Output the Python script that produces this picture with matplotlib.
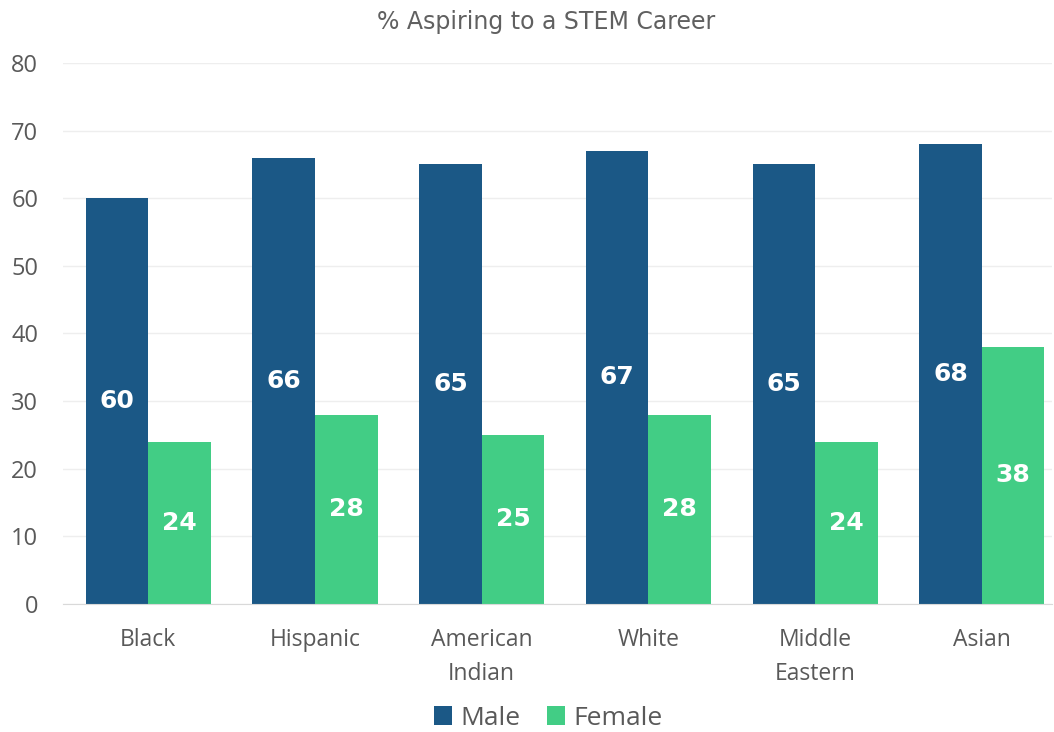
import matplotlib
matplotlib.use("Agg")
import matplotlib.pyplot as plt
import numpy as np

# ── Data ──────────────────────────────────────────────────────────────
CATEGORIES = ["Black", "Hispanic", "American\nIndian", "White", "Middle\nEastern", "Asian"]
MALE   = [60, 66, 65, 67, 65, 68]
FEMALE = [24, 28, 25, 28, 24, 38]
Y_TICKS = [0, 10, 20, 30, 40, 50, 60, 70, 80]
TITLE = "% Aspiring to a STEM Career"

MALE_COLOR   = "#1b5886"
FEMALE_COLOR = "#42cd85"
TEXT_GRAY    = "#595959"

plt.rcParams["font.family"] = ["Open Sans", "DejaVu Sans"]

fig = plt.figure(figsize=(10.54, 7.32), dpi=100)
ax = fig.add_axes([0.060, 0.175, 0.938, 0.739])

x = np.arange(len(CATEGORIES))
w = 0.375
bars_m = ax.bar(x - w / 2, MALE, w, color=MALE_COLOR, label="Male", zorder=3)
bars_f = ax.bar(x + w / 2, FEMALE, w, color=FEMALE_COLOR, label="Female", zorder=3)

# value labels centred inside each bar
for bars in (bars_m, bars_f):
    for b in bars:
        ax.text(b.get_x() + b.get_width() / 2, b.get_height() / 2,
                f"{int(b.get_height())}", ha="center", va="center",
                color="white", fontsize=18, fontweight="bold",
                family="DejaVu Sans", zorder=4)

ax.set_xlim(-0.51, 5.42)
ax.set_ylim(0, 80)
ax.set_yticks(Y_TICKS)
ax.set_xticks(x)
ax.set_xticklabels(CATEGORIES, fontsize=16.5, color=TEXT_GRAY, linespacing=1.6)
ax.tick_params(axis="y", labelsize=17, colors=TEXT_GRAY, length=0, pad=18)
ax.tick_params(axis="x", length=0, pad=17)
ax.grid(axis="y", color="#eeeeee", linewidth=1, zorder=0)
for s in ("top", "right", "left"):
    ax.spines[s].set_visible(False)
ax.spines["bottom"].set_color("#d9d9d9")
ax.spines["bottom"].set_zorder(5)

fig.text(0.518, 0.970, TITLE, ha="center", va="center", fontsize=17,
         color="#606060", family="DejaVu Sans")

fig.legend(handles=[bars_m, bars_f], loc="center", bbox_to_anchor=(0.52, 0.019),
           ncol=2, frameon=False, fontsize=19, labelcolor=TEXT_GRAY,
           handlelength=0.7, handleheight=0.7, handletextpad=0.3, columnspacing=1.0)

fig.savefig("out.png", dpi=100)
